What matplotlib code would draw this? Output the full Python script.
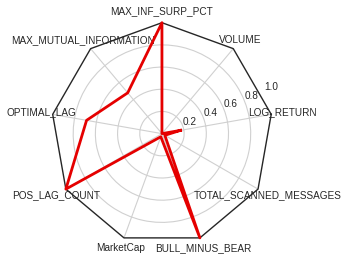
import numpy as np
import matplotlib
matplotlib.use('Agg')
from matplotlib import pyplot as plt

plt.rcParams['font.family'] = ['Liberation Sans', 'DejaVu Sans']
plt.rcParams['text.color'] = '#262626'

# features around the radar, counter-clockwise starting at 10 degrees
labels = ['LOG_RETURN', 'VOLUME', 'MAX_INF_SURP_PCT', 'MAX_MUTUAL_INFORMATION',
          'OPTIMAL_LAG', 'POS_LAG_COUNT', 'MarketCap', 'BULL_MINUS_BEAR',
          'TOTAL_SCANNED_MESSAGES']
values = [0.17, 0.0, 1.0, 0.48, 0.69, 1.0, 0.03, 1.0, 0.03]
r_ticks = [0.2, 0.4, 0.6, 0.8, 1.0]

N = len(labels)
theta = np.linspace(0, 2 * np.pi, N, endpoint=False)

fig = plt.figure(figsize=(3.5, 2.61), dpi=100)
ax = fig.add_axes([0.1457, 0.0625, 0.634, 0.851], projection='polar')
ax.set_theta_offset(np.deg2rad(10))
ax.set_ylim(0, 1)

# polygon frame instead of the circle
ax.spines['polar'].set_visible(False)
ax.patch.set_visible(False)
ang = np.append(theta, theta[0])
ax.plot(ang, np.ones_like(ang), color='#262626', lw=1, clip_on=False, zorder=3)

# grids, labels drawn centred like the old radar example
ax.set_thetagrids(np.degrees(theta), [''] * N)
ax.set_rgrids(r_ticks, [''] * len(r_ticks))
for gl in ax.xaxis.get_gridlines() + ax.yaxis.get_gridlines():
    gl.set_color('#d0d0d0')
    gl.set_linewidth(0.8)
ax.yaxis.get_gridlines()[-1].set_visible(False)

for t, lab in zip(theta, labels):
    ax.text(t, 1.1, lab, ha='center', va='center', fontsize=7.2, clip_on=False)
for r in r_ticks:
    ax.text(np.deg2rad(13), r + 0.075, str(r), ha='center', va='center',
            fontsize=7.2, clip_on=False)

v = np.append(values, values[0])
ax.plot(ang, v, color='#e50000', lw=2, zorder=4, clip_on=False)

fig.savefig('out.png', dpi=100)
